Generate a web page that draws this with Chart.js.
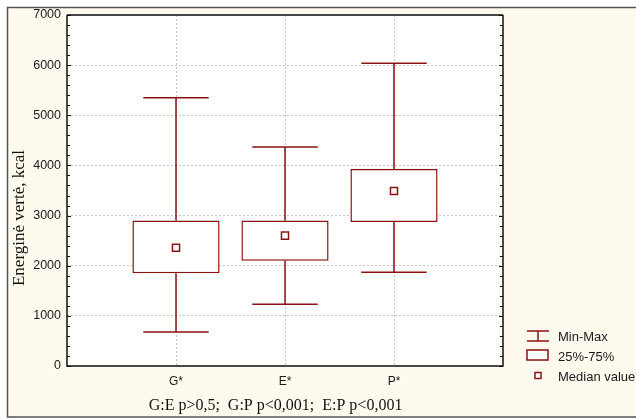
<!DOCTYPE html>
<html lang="en">
<head>
    <meta charset="UTF-8">
    <title>Energinė vertė - box plot</title>
    <script src="https://cdn.jsdelivr.net/npm/chart.js"></script>
    <style>
        html, body { margin: 0; padding: 0; background: #ffffff; }
        #wrap { width: 636px; height: 419px; }
    </style>
</head>
<body>
<div id="wrap"><canvas id="boxChart" width="636" height="419"></canvas></div>

<script type="text/javascript">
    // Values
    const categories = ['G*', 'E*', 'P*'];
    const minVals    = [680, 1230, 1870];
    const q1Vals     = [1850, 2100, 2870];
    const medianVals = [2360, 2600, 3490];
    const q3Vals     = [2900, 2900, 3930];
    const maxVals    = [5350, 4370, 6040];
    const yTickValues = [0, 1000, 2000, 3000, 4000, 5000, 6000, 7000];
    const legendLabels = ['Min-Max', '25%-75%', 'Median value'];
    const yTitle = 'Energinė vertė, kcal';
    const caption = 'G:E p>0,5;  G:P p<0,001;  E:P p<0,001';

    const RED = '#8c1212';
    const CAP = 0.3; // half width of whisker caps, in category units

    // whisker lines and caps, gaps separate the segments
    const whiskerPts = [];
    categories.forEach((c, i) => {
        const x = i + 1;
        whiskerPts.push({x: x, y: minVals[i]}, {x: x, y: q1Vals[i]}, {x: x, y: null});
        whiskerPts.push({x: x, y: q3Vals[i]}, {x: x, y: maxVals[i]}, {x: x, y: null});
        whiskerPts.push({x: x - CAP, y: maxVals[i]}, {x: x + CAP, y: maxVals[i]}, {x: x, y: null});
        whiskerPts.push({x: x - CAP, y: minVals[i]}, {x: x + CAP, y: minVals[i]}, {x: x, y: null});
    });
    const boxPts = categories.map((c, i) => ({x: i + 1, y: [q1Vals[i], q3Vals[i]]}));
    const medianPts = categories.map((c, i) => ({x: i + 1, y: medianVals[i]}));

    // frame, inward ticks, titles and legend
    const decorPlugin = {
        id: 'decor',
        beforeDraw(chart) {
            const ctx = chart.ctx;
            const a = chart.chartArea;
            ctx.save();
            ctx.fillStyle = '#ffffff';
            ctx.fillRect(0, 0, chart.width, chart.height);
            ctx.fillStyle = '#fffaee';
            ctx.fillRect(7, 7, chart.width - 7, 410);
            ctx.strokeStyle = '#555555';
            ctx.lineWidth = 1.5;
            ctx.strokeRect(7.5, 7.5, chart.width + 10, 409.5);
            ctx.fillStyle = '#ffffff';
            ctx.fillRect(a.left, a.top, a.right - a.left, a.bottom - a.top);
            ctx.restore();
        },
        afterDatasetsDraw(chart) {
            const ctx = chart.ctx;
            const a = chart.chartArea;
            const y = chart.scales.y;
            ctx.save();
            // plot frame
            ctx.strokeStyle = '#444444';
            ctx.lineWidth = 2;
            ctx.beginPath();
            ctx.moveTo(a.left, a.top); ctx.lineTo(a.right, a.top);
            ctx.stroke();
            ctx.strokeStyle = '#111111';
            ctx.lineWidth = 1.5;
            ctx.beginPath();
            ctx.moveTo(a.left, a.top); ctx.lineTo(a.left, a.bottom);
            ctx.lineTo(a.right, a.bottom); ctx.lineTo(a.right, a.top);
            ctx.stroke();
            // inward minor / major ticks on both sides
            ctx.lineWidth = 1;
            for (let v = y.min; v <= y.max; v += 200) {
                const py = Math.round(y.getPixelForValue(v)) + 0.5;
                const len = (v % 1000 === 0) ? 4 : 3;
                ctx.beginPath();
                ctx.moveTo(a.left, py); ctx.lineTo(a.left + len, py);
                ctx.moveTo(a.right, py); ctx.lineTo(a.right - len, py);
                ctx.stroke();
            }
            // y title
            ctx.fillStyle = '#111111';
            ctx.font = '17px "Liberation Serif", "Times New Roman", serif';
            ctx.textAlign = 'center';
            ctx.textBaseline = 'middle';
            ctx.translate(20, 218);
            ctx.rotate(-Math.PI / 2);
            ctx.fillText(yTitle, 0, 0);
            ctx.restore();

            ctx.save();
            // caption under x axis
            ctx.fillStyle = '#111111';
            ctx.font = '16px "Liberation Serif", "Times New Roman", serif';
            ctx.textAlign = 'center';
            ctx.textBaseline = 'middle';
            ctx.fillText(caption, 275.5, 406);

            // legend
            ctx.strokeStyle = RED;
            ctx.lineWidth = 1.5;
            ctx.beginPath();
            ctx.moveTo(527, 331); ctx.lineTo(549, 331);
            ctx.moveTo(538, 331); ctx.lineTo(538, 341);
            ctx.moveTo(527, 341); ctx.lineTo(549, 341);
            ctx.stroke();
            ctx.fillStyle = '#ffffff';
            ctx.fillRect(527, 350, 21, 10);
            ctx.strokeRect(527, 350, 21, 10);
            ctx.fillRect(535, 372.5, 6, 6);
            ctx.strokeRect(535, 372.5, 6, 6);
            ctx.fillStyle = '#1a1a1a';
            ctx.font = '13px "Liberation Sans", Arial, sans-serif';
            ctx.textAlign = 'left';
            ctx.textBaseline = 'middle';
            ctx.fillText(legendLabels[0], 558, 337);
            ctx.fillText(legendLabels[1], 558, 357);
            ctx.fillText(legendLabels[2], 558, 377);
            ctx.restore();
        }
    };

    const ctx = document.getElementById('boxChart').getContext('2d');
    const chart = new Chart(ctx, {
        type: 'bar',
        data: {
            datasets: [
                {
                    type: 'scatter',
                    data: medianPts,
                    pointStyle: 'rect',
                    pointRadius: 5,
                    pointBackgroundColor: '#ffffff',
                    pointBorderColor: RED,
                    pointBorderWidth: 1.5,
                    order: 0
                },
                {
                    type: 'bar',
                    data: boxPts,
                    backgroundColor: '#ffffff',
                    borderColor: RED,
                    borderWidth: 1.5,
                    borderSkipped: false,
                    categoryPercentage: 0.8,
                    barPercentage: 1,
                    order: 1
                },
                {
                    type: 'line',
                    data: whiskerPts,
                    borderColor: RED,
                    borderWidth: 1.5,
                    pointRadius: 0,
                    spanGaps: false,
                    fill: false,
                    order: 2
                }
            ]
        },
        options: {
            responsive: false,
            animation: false,
            events: [],
            layout: { padding: { left: 0, top: 15, right: 133, bottom: 0 } },
            plugins: {
                legend: { display: false },
                tooltip: { enabled: false }
            },
            scales: {
                x: {
                    type: 'linear',
                    min: 0,
                    max: categories.length + 1,
                    offset: false,
                    afterFit: (s) => { s.height = 53; },
                    grid: {
                        offset: false,
                        drawTicks: false,
                        color: (c) => (c.tick && c.tick.value > 0 && c.tick.value <= categories.length) ? '#c4c4c4' : 'rgba(0,0,0,0)'
                    },
                    border: { display: false, dash: [2, 2] },
                    ticks: {
                        stepSize: 1,
                        autoSkip: false,
                        maxRotation: 0,
                        padding: 8,
                        color: '#1a1a1a',
                        font: { family: '"Liberation Sans", Arial, sans-serif', size: 12 },
                        callback: (v) => categories[v - 1] || ''
                    }
                },
                y: {
                    min: yTickValues[0],
                    max: yTickValues[yTickValues.length - 1],
                    afterFit: (s) => { s.width = 67; },
                    afterBuildTicks: (s) => { s.ticks = yTickValues.map(v => ({value: v})); },
                    grid: { drawTicks: false, color: '#c4c4c4' },
                    border: { display: false, dash: [2, 2] },
                    ticks: {
                        padding: 6,
                        color: '#1a1a1a',
                        font: { family: '"Liberation Sans", Arial, sans-serif', size: 12.5 },
                        callback: (v) => String(v)
                    }
                }
            }
        },
        plugins: [decorPlugin]
    });
</script>
</body>
</html>
